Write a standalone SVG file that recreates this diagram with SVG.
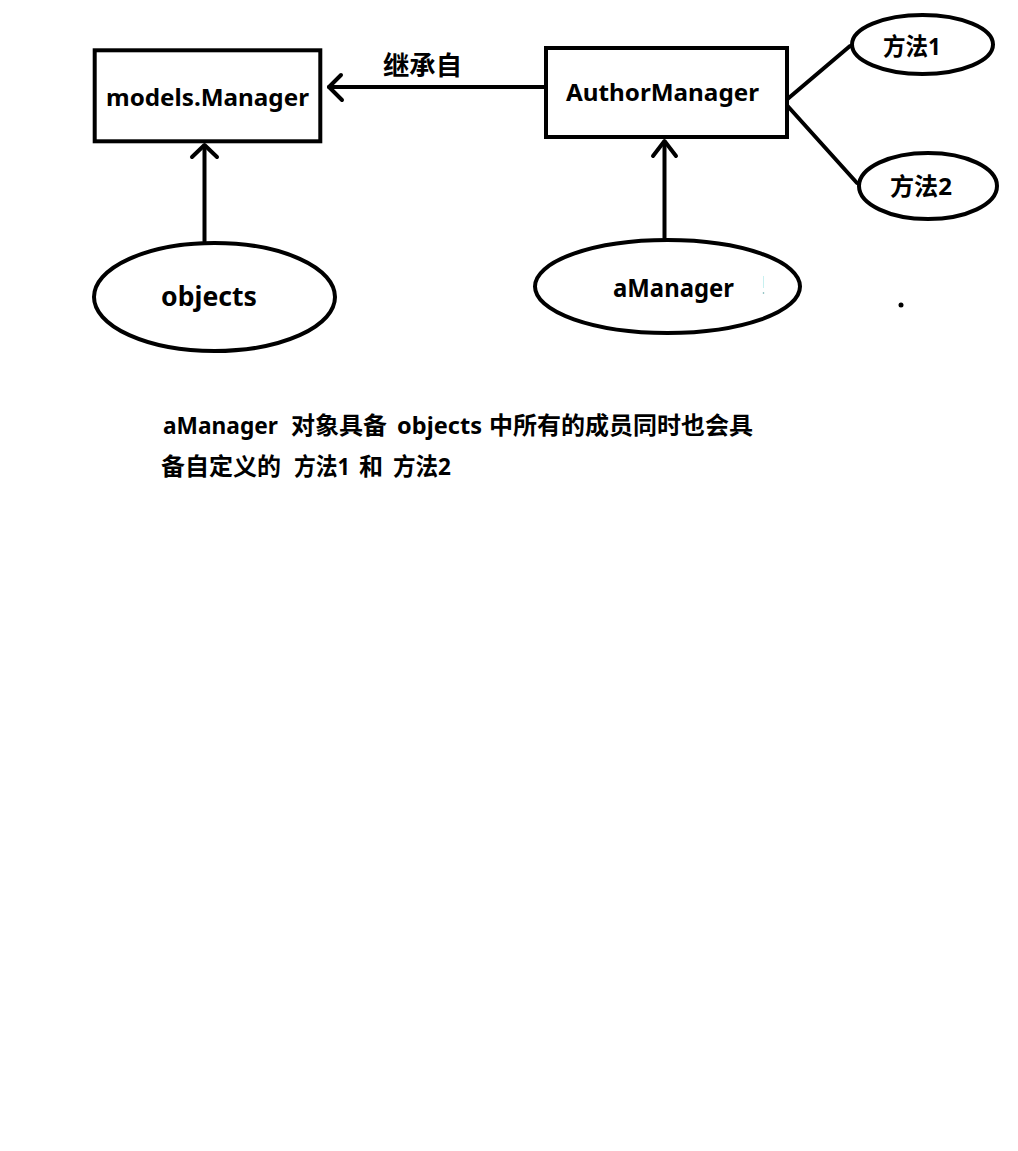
<svg xmlns="http://www.w3.org/2000/svg" width="1018" height="1151" viewBox="0 0 1018 1151">
<style>
.shape{fill:#fff;stroke:#000;stroke-width:4}
.conn{fill:none;stroke:#000;stroke-width:4;stroke-linecap:round;stroke-linejoin:round}
text{font-family:"Noto Sans","Noto Sans CJK SC",sans-serif;font-weight:bold;fill:#000}
.lbl{font-size:24px}
</style>
<rect width="1018" height="1151" fill="#fff"/>
<g id="connectors">
<line class="conn" x1="545" y1="87" x2="329" y2="87"/>
<path class="conn" d="M341,75 L329,87 L342,100"/>
<line class="conn" x1="204.5" y1="241" x2="204.5" y2="146"/>
<path class="conn" d="M192,157 L204.5,145 L217,157"/>
<line class="conn" x1="664.5" y1="238" x2="664.5" y2="142"/>
<path class="conn" d="M653,156 L664.5,141 L676,156"/>
<line class="conn" x1="784" y1="102" x2="850" y2="46"/>
<line class="conn" x1="784" y1="102" x2="857" y2="183"/>
<text x="383" y="75" style="font-size:26px" textLength="79" lengthAdjust="spacingAndGlyphs">继承自</text>
</g>
<g id="node-models-manager">
<rect class="shape" x="94.7" y="50.3" width="225.6" height="91"/>
<text class="lbl" x="106" y="106" textLength="203" lengthAdjust="spacingAndGlyphs">models.Manager</text>
</g>
<g id="node-author-manager">
<rect class="shape" x="546" y="48" width="241" height="89"/>
<text class="lbl" x="566" y="101" textLength="193" lengthAdjust="spacingAndGlyphs">AuthorManager</text>
</g>
<g id="node-objects">
<ellipse class="shape" cx="214.5" cy="297" rx="120.5" ry="54"/>
<text x="161" y="306" style="font-size:27px" textLength="96" lengthAdjust="spacingAndGlyphs">objects</text>
</g>
<g id="node-amanager">
<ellipse class="shape" cx="667.5" cy="286.5" rx="132.5" ry="46.5"/>
<text x="613" y="297" style="font-size:25px" textLength="121" lengthAdjust="spacingAndGlyphs">aManager</text>
</g>
<g id="node-method1">
<ellipse class="shape" cx="922.5" cy="44.5" rx="70.5" ry="29.5"/>
<text class="lbl" x="883" y="55" textLength="58" lengthAdjust="spacingAndGlyphs">方法1</text>
</g>
<g id="node-method2">
<ellipse class="shape" cx="928" cy="186" rx="69" ry="33"/>
<text class="lbl" x="890" y="195" textLength="62" lengthAdjust="spacingAndGlyphs">方法2</text>
</g>
<g id="artifacts">
<line x1="763.5" y1="276" x2="763.5" y2="288" stroke="#c8f0f0" stroke-width="1"/>
<circle cx="763.5" cy="293" r="0.8" fill="#6aa"/>
<circle cx="901" cy="305" r="2.5" fill="#000"/>
</g>
<g id="caption">
<text class="lbl"><tspan x="163" y="434" textLength="115" lengthAdjust="spacingAndGlyphs">aManager</tspan><tspan x="291" y="434">对象具备</tspan><tspan x="397" y="434" textLength="85" lengthAdjust="spacingAndGlyphs">objects</tspan><tspan x="489" y="434">中所有的成员同时也会具</tspan></text>
<text class="lbl"><tspan x="161" y="475">备自定义的</tspan><tspan x="294" y="475" textLength="56" lengthAdjust="spacingAndGlyphs">方法1</tspan><tspan x="359" y="475">和</tspan><tspan x="393" y="475" textLength="58" lengthAdjust="spacingAndGlyphs">方法2</tspan></text>
</g>
</svg>
